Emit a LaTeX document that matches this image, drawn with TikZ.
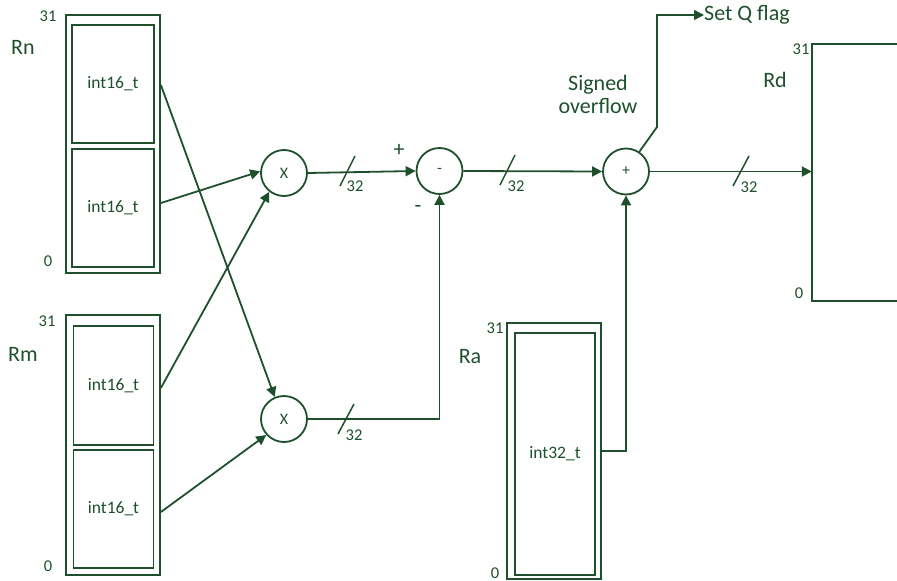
\documentclass[tikz,border=0pt]{standalone}
\usepackage{fontspec}
\setmainfont{Carlito}
\usetikzlibrary{arrows.meta}
\definecolor{dg}{RGB}{30,80,45}
\tikzset{
  ln/.style={draw=dg, line width=1.8pt},
  arr/.style={ln, -{Triangle[length=10pt,width=10pt]}},
  outerbox/.style={ln, rectangle, inner sep=0pt},
  innerbox/.style={ln, rectangle, inner sep=0pt, text=dg, font=\fontsize{17.5}{20}\selectfont},
  op/.style={ln, circle, minimum size=46pt, inner sep=0pt, text=dg, font=\fontsize{16}{19}\selectfont},
  lbl/.style={text=dg, inner sep=0pt, font=\fontsize{22}{26}\selectfont},
  num/.style={text=dg, inner sep=0pt, font=\fontsize{16.5}{19}\selectfont},
  slash/.style={ln, line width=1.5pt}
}
\begin{document}
\begin{tikzpicture}[x=1pt,y=-1pt]
\useasboundingbox (0,0) rectangle (897,581);
% Rn
\node[outerbox, minimum width=94pt, minimum height=258pt] (Rn) at (113,144) {};
\node[innerbox, minimum width=82pt, minimum height=118pt] (RnT) at (113,84) {int16\_t};
\node[innerbox, minimum width=82pt, minimum height=118pt] (RnB) at (113,208) {int16\_t};
\node[num] (Rn31) at (48,16) {31};
\node[lbl] (RnL) at (23,47) {Rn};
\node[num] (Rn0) at (48,261) {0};
% Rm
\node[outerbox, minimum width=94pt, minimum height=260pt] (Rm) at (113,445) {};
\node[innerbox, minimum width=80pt, minimum height=119pt] (RmT) at (113.5,385.5) {int16\_t};
\node[innerbox, minimum width=80pt, minimum height=118pt] (RmB) at (113.5,509) {int16\_t};
\node[num] (Rm31) at (47,321) {31};
\node[lbl] (RmL) at (23,354) {Rm};
\node[num] (Rm0) at (48,566) {0};
% operators
\node[op] (X1) at (284,173) {X};
\node[op] (X2) at (284,419) {X};
\node[op] (Minus) at (439.5,171) {-};
\node[op] (Plus) at (626,171.5) {+};
\node[lbl] (PlusSign) at (399,150) {+};
\node[lbl] (MinusSign) at (418,209) {-};
% Ra
\node[outerbox, minimum width=94pt, minimum height=256pt] (Ra) at (554,451) {};
\node[innerbox, minimum width=80pt, minimum height=242pt] (RaI) at (555,454) {int32\_t};
\node[num] (Ra31) at (495,328) {31};
\node[lbl] (RaL) at (470,357) {Ra};
\node[num] (Ra0) at (495,573) {0};
% Rd
\node[inner sep=0pt, minimum width=85pt, minimum height=257pt] (Rd) at (854.5,172.5) {};
\draw[ln] (Rd.north east) -- (Rd.north west) -- (Rd.south west) -- (Rd.south east);
\node[num] (Rd31) at (801,49) {31};
\node[lbl] (RdL) at (775,80) {Rd};
\node[num] (Rd0) at (799,293) {0};
% labels
\node[lbl, align=center] (SO) at (598,94) {Signed\\[-3pt]overflow};
\node[lbl, anchor=west] (Q) at (704,15) {Set Q flag};
% connectors
\draw[arr] ([yshift=-1pt]Rn.east |- RnT.center) -- (X2.113);
\draw[arr] ([yshift=5pt]Rn.east |- RnB.center) -- (X1.176);
\draw[arr] ([yshift=-2.5pt]Rm.east |- RmT.center) -- (X1.232);
\draw[arr] ([yshift=-3pt]Rm.east |- RmB.center) -- (X2.222);
\draw[arr] (X1.east) -- (Minus.west);
\draw[arr] (X2.east) -| (Minus.south);
\draw[arr] (Minus.east) -- (Plus.west);
\draw[arr] (Ra.east) -| (Plus.south);
\draw[arr] (Plus.east) -- (Rd.west |- Plus.east);
\coordinate (bend) at (657,127);
\draw[arr] (Plus.56) -- (bend) |- (Q.west);
% bus width marks
\draw[slash] (340,186) -- (355,156);
\node[num] (w1) at (355,186) {32};
\draw[slash] (500,185) -- (515,155);
\node[num] (w2) at (516,186) {32};
\draw[slash] (733,186) -- (749,156);
\node[num] (w3) at (749,187) {32};
\draw[slash] (338,434) -- (354,404);
\node[num] (w4) at (354,435) {32};
\end{tikzpicture}
\end{document}
